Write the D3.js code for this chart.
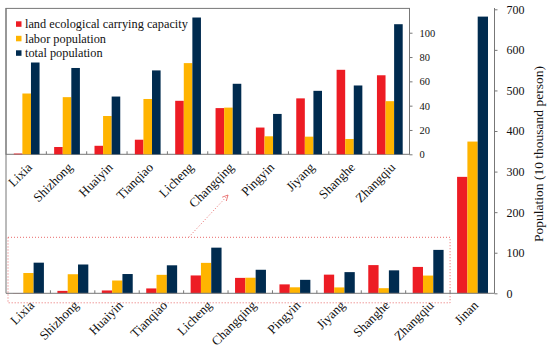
<!DOCTYPE html>
<html>
<head>
<meta charset="utf-8">
<script src="https://cdn.jsdelivr.net/npm/d3@7"></script>
<style>
body { margin: 0; background: #fff; }
svg text { font-family: "Liberation Serif", "Times New Roman", serif; }
</style>
</head>
<body>
<script>
// districts shown in the inset, Jinan is added only in the main chart
const districts = ["Lixia", "Shizhong", "Huaiyin", "Tianqiao", "Licheng", "Changqing", "Pingyin", "Jiyang", "Shanghe", "Zhangqiu"];
const areas = districts.concat(["Jinan"]);
const seriesNames = ["land ecological carrying capacity", "labor population", "total population"];
const landCapacity = [0.6, 6, 7, 12, 44, 38, 22, 46, 69.5, 65, 287];
const laborPop = [50, 47, 31.5, 45.5, 75, 38.4, 14.8, 14.5, 12.6, 43.7, 374];
const totalPop = [75.5, 71, 47.5, 69, 112.5, 58, 33.2, 52.2, 56.6, 107, 682];
const mainTicks = [0, 100, 200, 300, 400, 500, 600, 700];
const insetTicks = [0, 20, 40, 60, 80, 100];
const colors = ["#ED1C24", "#FFB400", "#002B4F"];
const yTitle = "Population (10 thousand person)";

const w = 550, h = 351;
const axisColor = "#777";

const rows = areas.map((a, i) => ({ area: a, vals: [landCapacity[i], laborPop[i], totalPop[i]] }));

const svg = d3.select("body").append("svg")
  .attr("width", w)
  .attr("height", h);

// ---------- main chart ----------
const x = d3.scaleBand().domain(areas).range([6, 494.5]);
const y = d3.scaleLinear().domain([0, 700]).range([293.3, 9.3]);
const xs = d3.scaleBand().domain([0, 1, 2]).range([7, x.bandwidth() - 6.5]);

// dotted box around small districts + arrow to inset
const boxL = x("Lixia") + 2, boxR = x("Zhangqiu") + x.bandwidth();
svg.append("rect")
  .attr("x", boxL).attr("y", y(138))
  .attr("width", boxR - boxL).attr("height", y(0) + 9.5 - y(138))
  .attr("fill", "none").attr("stroke", "#E86A6A")
  .attr("stroke-width", 1).attr("stroke-dasharray", "1,2");

svg.append("defs").append("marker")
  .attr("id", "arr").attr("viewBox", "0 0 10 10")
  .attr("refX", 9).attr("refY", 5)
  .attr("markerWidth", 7).attr("markerHeight", 7)
  .attr("orient", "auto")
  .append("path").attr("d", "M1,1 L9,5 L1,9")
  .attr("fill", "none").attr("stroke", "#E86A6A").attr("stroke-width", 1.2);

svg.append("line")
  .attr("x1", x("Licheng") + 5).attr("y1", y(138))
  .attr("x2", x("Changqing")).attr("y2", 195)
  .attr("stroke", "#E86A6A").attr("stroke-width", 1)
  .attr("stroke-dasharray", "1,2")
  .attr("marker-end", "url(#arr)");

const g = svg.append("g").selectAll("g")
  .data(rows).enter().append("g")
  .attr("transform", d => "translate(" + x(d.area) + ",0)");

g.selectAll("rect")
  .data(d => d.vals)
  .enter().append("rect")
  .attr("x", (d, i) => xs(i))
  .attr("y", d => y(d))
  .attr("width", xs.bandwidth())
  .attr("height", d => y(0) - y(d))
  .attr("fill", (d, i) => colors[i]);

// left spine
svg.append("line")
  .attr("x1", 6).attr("x2", 6).attr("y1", 8).attr("y2", y(0))
  .attr("stroke", axisColor);

// bottom axis
svg.append("line")
  .attr("x1", 6).attr("x2", 494.5).attr("y1", y(0)).attr("y2", y(0))
  .attr("stroke", axisColor);
svg.append("g").selectAll("line")
  .data(areas.slice(1))
  .enter().append("line")
  .attr("x1", d => x(d)).attr("x2", d => x(d))
  .attr("y1", y(0)).attr("y2", y(0) - 3)
  .attr("stroke", axisColor);
svg.append("g").selectAll("g")
  .data(areas)
  .enter().append("g")
  .attr("transform", d => "translate(" + (x(d) + x.bandwidth() / 2 + 4) + "," + (y(0) + 10) + ")")
  .append("text")
  .attr("transform", "rotate(-45)")
  .attr("text-anchor", "end")
  .attr("dy", "0.3em")
  .attr("font-size", 13)
  .attr("fill", "#111")
  .text(d => d);

// right axis
const yAxis = d3.axisRight(y).tickValues(mainTicks).tickSize(3).tickSizeOuter(0).tickPadding(9);
const ya = svg.append("g")
  .attr("transform", "translate(494.5,0)")
  .call(yAxis)
  .attr("font-family", null)
  .attr("font-size", 12);
ya.select(".domain").attr("stroke", axisColor).attr("d", "M0,8V" + y(0));
ya.selectAll(".tick line").attr("stroke", axisColor);
ya.selectAll("text").attr("fill", "#111");

svg.append("text")
  .attr("transform", "translate(538,154) rotate(-90)")
  .attr("text-anchor", "middle")
  .attr("dy", "0.35em")
  .attr("font-size", 13.5)
  .attr("fill", "#111")
  .text(yTitle);

// ---------- inset chart ----------
const xi = d3.scaleBand().domain(districts).range([6, 409.5]);
const yi = d3.scaleLinear().domain([0, 120]).range([154.3, 8.4]);
const xis = d3.scaleBand().domain([0, 1, 2]).range([7.8, xi.bandwidth() - 6.8]);

svg.append("rect")
  .attr("x", 6).attr("y", yi(120))
  .attr("width", 409.5 - 6).attr("height", yi(0) - yi(120))
  .attr("fill", "none").attr("stroke", axisColor);

const gi = svg.append("g").selectAll("g")
  .data(rows.slice(0, districts.length)).enter().append("g")
  .attr("transform", d => "translate(" + xi(d.area) + ",0)");

gi.selectAll("rect")
  .data(d => d.vals)
  .enter().append("rect")
  .attr("x", (d, i) => xis(i))
  .attr("y", d => yi(d))
  .attr("width", xis.bandwidth())
  .attr("height", d => yi(0) - yi(d))
  .attr("fill", (d, i) => colors[i]);

svg.append("g").selectAll("line")
  .data(districts.slice(1))
  .enter().append("line")
  .attr("x1", d => xi(d)).attr("x2", d => xi(d))
  .attr("y1", yi(0)).attr("y2", yi(0) - 3)
  .attr("stroke", axisColor);
svg.append("g").selectAll("g")
  .data(districts)
  .enter().append("g")
  .attr("transform", d => "translate(" + (xi(d) + xi.bandwidth() / 2 + 4) + "," + (yi(0) + 11) + ")")
  .append("text")
  .attr("transform", "rotate(-45)")
  .attr("text-anchor", "end")
  .attr("dy", "0.3em")
  .attr("font-size", 13)
  .attr("fill", "#111")
  .text(d => d);

const yiAxis = d3.axisRight(yi).tickValues(insetTicks).tickSize(3).tickSizeOuter(0).tickPadding(7);
const yia = svg.append("g")
  .attr("transform", "translate(409.5,0)")
  .call(yiAxis)
  .attr("font-family", null)
  .attr("font-size", 10.5);
yia.select(".domain").remove();
yia.selectAll(".tick line").attr("stroke", axisColor);
yia.selectAll("text").attr("fill", "#111");

// legend
const leg = svg.append("g").selectAll("g")
  .data(seriesNames).enter().append("g")
  .attr("transform", (d, i) => "translate(16," + (24 + i * 14.5) + ")");
leg.append("rect")
  .attr("x", 0).attr("y", -2.7)
  .attr("width", 5.5).attr("height", 5.5)
  .attr("fill", (d, i) => colors[i]);
leg.append("text")
  .attr("x", 9).attr("dy", "0.35em")
  .attr("font-size", 12.3)
  .attr("fill", "#111")
  .text(d => d);
</script>
</body>
</html>
